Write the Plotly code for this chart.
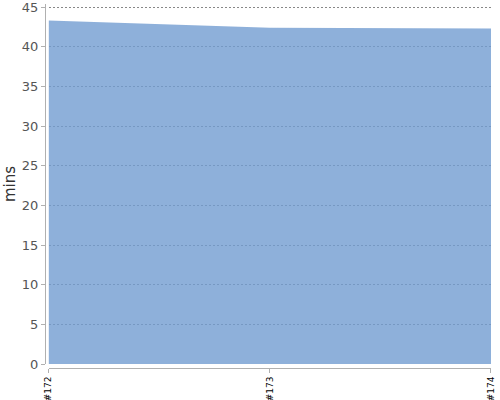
import plotly.graph_objects as go

# build numbers and durations (mins)
builds = ["#172", "#173", "#174"]
durations = [43.3, 42.4, 42.3]

fig = go.Figure()

fig.add_trace(
    go.Scatter(
        x=builds, y=durations,
        mode="lines",
        line=dict(width=0, color="rgba(114,156,209,0.8)"),
        fill="tozeroy",
        fillcolor="rgba(114,156,209,0.8)",
        hoverinfo="skip",
    )
)

fig.update_layout(
    width=500, height=400,
    margin=dict(l=45, r=9, t=4, b=32),
    paper_bgcolor="white", plot_bgcolor="white",
    showlegend=False,
    font=dict(family="DejaVu Sans", color="#444"),
    xaxis=dict(
        domain=[0.008, 1],
        range=[0, 2],
        type="category",
        anchor="free", position=0,
        automargin=False,
        showgrid=False, zeroline=False,
        showline=True, linecolor="#b0b0b0", linewidth=1,
        ticks="outside", ticklen=4, tickcolor="#b0b0b0",
        tickangle=-90,
        tickfont=dict(size=9, color="black"),
    ),
    yaxis=dict(
        domain=[0.011, 1],
        range=[0, 45.38],
        dtick=5,
        anchor="free", position=0,
        automargin=False,
        ticklabeloverflow="allow",
        showgrid=True, gridcolor="#888888", griddash="2px,2px", gridwidth=1,
        zeroline=False,
        showline=True, linecolor="#b0b0b0", linewidth=1,
        ticks="outside", ticklen=4, tickcolor="#b0b0b0",
        tickfont=dict(size=13, color="#555"),
        title=dict(text="mins", font=dict(size=15, color="#333"), standoff=1),
    ),
)

# page body has a default 8px margin, drop it so the chart sits at 0,0
fig.write_html("out.html", config={"displayModeBar": False},
               post_script="document.body.style.margin='0';")
